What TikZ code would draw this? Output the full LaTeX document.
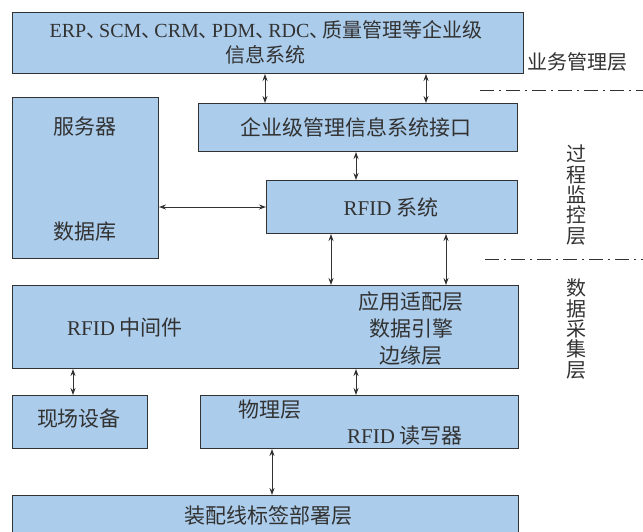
\documentclass[tikz,border=0pt]{standalone}
\usepackage{fontspec}
\setmainfont{Noto Sans CJK SC}
\newfontfamily\lt{Liberation Serif}
\usetikzlibrary{arrows.meta}
\definecolor{boxfill}{RGB}{171,204,235}
\definecolor{ink}{RGB}{50,50,50}
\newcommand{\dunhao}{\makebox[13pt][l]{、}}
\tikzset{
 box/.style={draw=ink, line width=1pt, fill=boxfill, anchor=north west, inner sep=0pt},
 txt/.style={text=ink, font=\fontsize{21}{25}\selectfont, inner sep=0pt, align=center},
 toptxt/.style={text=ink, font=\fontsize{20}{25}\selectfont, inner sep=0pt, align=center},
 vtxt/.style={text=ink, font=\fontsize{20}{20.4}\selectfont, inner sep=0pt, align=center},
 biarrow/.style={draw=ink, line width=0.9pt, {Stealth[length=7pt,width=5pt]}-{Stealth[length=7pt,width=5pt]}},
 layerline/.style={draw=ink, line width=0.9pt, dash pattern=on 14pt off 5pt on 2pt off 5pt},
}
\begin{document}
\begin{tikzpicture}[x=1pt,y=-1pt]
\useasboundingbox[fill=white] (0,0) rectangle (643,531);
% boxes
\node[box, minimum width=511, minimum height=61] (erp) at (12,12) {};
\node[box, minimum width=146, minimum height=161] (srv) at (12,97) {};
\node[box, minimum width=319, minimum height=48] (intf) at (198,103) {};
\node[box, minimum width=251, minimum height=53] (rfid) at (266,180) {};
\node[box, minimum width=506, minimum height=83] (mid) at (12,285) {};
\node[box, minimum width=135, minimum height=53] (dev) at (12,395) {};
\node[box, minimum width=318, minimum height=53] (rdr) at (200,395) {};
\node[box, minimum width=506, minimum height=50] (tag) at (12,495) {};
% texts
\node[toptxt] (t1) at (266,42) {{\lt ERP}\dunhao{\lt SCM}\dunhao{\lt CRM}\dunhao{\lt PDM}\dunhao{\lt RDC}\dunhao 质量管理等企业级\\信息系统};
\node[txt] (t2) at (85,127) {服务器};
\node[txt] (t3) at (85,232) {数据库};
\node[txt] (t4) at (356,127) {企业级管理信息系统接口};
\node[txt] (t5) at (391,207) {{\lt RFID} 系统};
\node[txt] (t6) at (125,328) {{\lt RFID} 中间件};
\node[txt] (t7) at (411,302) {应用适配层};
\node[txt] (t8) at (411,329) {数据引擎};
\node[txt] (t9) at (411,356) {边缘层};
\node[txt] (t10) at (79,419) {现场设备};
\node[txt] (t11) at (270,410) {物理层};
\node[txt] (t12) at (405,436) {{\lt RFID} 读写器};
\node[txt] (t13) at (268,516) {装配线标签部署层};
% layer labels
\node[vtxt, anchor=west] (l1) at (527,62) {业务管理层};
\node[vtxt] (l2) at (576,195) {过\\程\\监\\控\\层};
\node[vtxt] (l3) at (576,329) {数\\据\\采\\集\\层};
\coordinate (d1a) at (480,90); \coordinate (d1b) at (643,90);
\coordinate (d2a) at (485,259); \coordinate (d2b) at (643,259);
\draw[layerline] (d1a) -- (d1b);
\draw[layerline] (d2a) -- (d2b);
% arrows
\draw[biarrow] (erp.south -| 265,0) -- (intf.north -| 265,0);
\draw[biarrow] (erp.south -| 426,0) -- (intf.north -| 426,0);
\draw[biarrow] (intf.south -| 356,0) -- (rfid.north -| 356,0);
\draw[biarrow] (srv.east |- 0,207) -- (rfid.west |- 0,207);
\draw[biarrow] (rfid.south -| 331,0) -- (mid.north -| 331,0);
\draw[biarrow] (rfid.south -| 446,0) -- (mid.north -| 446,0);
\draw[biarrow] (mid.south -| 73,0) -- (dev.north -| 73,0);
\draw[biarrow] (mid.south -| 356,0) -- (rdr.north -| 356,0);
\draw[biarrow] (rdr.south -| 272,0) -- (tag.north -| 272,0);
\end{tikzpicture}
\end{document}
